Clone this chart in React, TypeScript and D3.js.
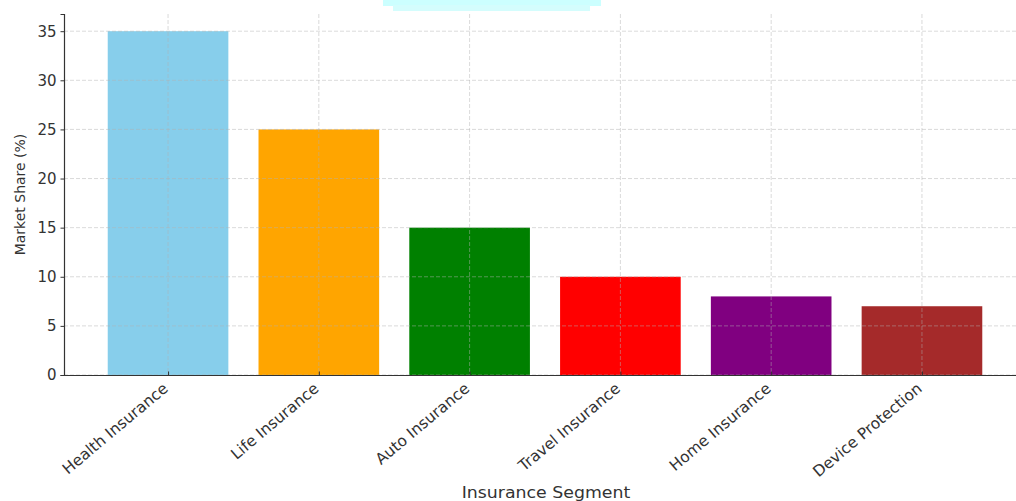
import React, { useEffect, useRef } from 'react'
import * as d3 from 'd3'

const segments = ['Health Insurance', 'Life Insurance', 'Auto Insurance', 'Travel Insurance', 'Home Insurance', 'Device Protection']
const shares = [35, 25, 15, 10, 8, 7]
const colors = ['#87ceeb', '#ffa500', '#008000', '#ff0000', '#800080', '#a52a2a']
const yTicks = [0, 5, 10, 15, 20, 25, 30, 35]

const width = 1016
const height = 501
const margin = { top: 14, left: 64, bottom: 126 }

export default function App() {
  const ref = useRef<SVGSVGElement>(null)

  useEffect(() => {
    const svg = d3.select(ref.current)
    svg.selectAll('*').remove()
    const font = 'DejaVu Sans, sans-serif'
    const n = segments.length

    const x = d3.scaleLinear()
      .domain([-0.4 - 0.05 * (n - 0.2), n - 1 + 0.4 + 0.05 * (n - 0.2)])
      .range([margin.left, 1026])
    const y = d3.scaleLinear().domain([0, 36.75]).range([height - margin.bottom, margin.top])
    const barW = x(0.8) - x(0)

    // stray cyan blob at the top of the picture
    svg.append('rect').attr('x', 383).attr('y', 0).attr('width', 218).attr('height', 6).attr('fill', '#ccffff')
    svg.append('rect').attr('x', 393).attr('y', 5).attr('width', 197).attr('height', 6).attr('fill', '#d4fdfd')

    svg.append('g').selectAll('rect').data(shares).join('rect')
      .attr('x', (d, i) => x(i) - barW / 2)
      .attr('y', d => y(d))
      .attr('width', barW)
      .attr('height', d => y(0) - y(d))
      .attr('fill', (d, i) => colors[i])

    // grid on top of bars
    const grid = svg.append('g').attr('stroke', '#b0b0b0').attr('stroke-opacity', 0.6)
      .attr('stroke-dasharray', '4,2').attr('stroke-width', 0.8)
    grid.selectAll('line.h').data(yTicks).join('line').attr('class', 'h')
      .attr('x1', margin.left).attr('x2', width).attr('y1', d => y(d)).attr('y2', d => y(d))
    grid.selectAll('line.v').data(segments).join('line').attr('class', 'v')
      .attr('x1', (d, i) => x(i)).attr('x2', (d, i) => x(i)).attr('y1', y(36.75)).attr('y2', y(0))

    const yAxis = svg.append('g').attr('transform', `translate(${margin.left},0)`)
      .call(d3.axisLeft(y).tickValues(yTicks).tickSize(3.5).tickPadding(4))
    yAxis.select('.domain').attr('stroke', '#333').attr('stroke-width', 1.2)
    yAxis.selectAll('.tick line').attr('stroke', '#333')
    yAxis.selectAll('.tick text').attr('font-family', font).attr('font-size', 15).attr('fill', '#333')

    const xAxis = svg.append('g').attr('transform', `translate(0,${y(0)})`)
      .call(d3.axisBottom(x).tickValues(d3.range(n)).tickSize(-3.5).tickSizeOuter(0).tickFormat((d: any) => segments[d]))
    xAxis.select('.domain').attr('stroke', '#333').attr('stroke-width', 1.2)
    xAxis.selectAll('.tick line').attr('stroke', '#333')
    xAxis.selectAll('.tick text')
      .attr('font-family', font).attr('font-size', 15.5).attr('fill', '#333')
      .attr('text-anchor', 'end').attr('dy', '0.35em')
      .attr('transform', 'translate(-3,11) rotate(-40)')
      .attr('y', 0).attr('x', 0)

    svg.append('text').attr('transform', `translate(25,${(y(0) + margin.top) / 2}) rotate(-90)`)
      .attr('text-anchor', 'middle').attr('font-family', font).attr('font-size', 14).attr('fill', '#333')
      .text('Market Share (%)')
    svg.append('text').attr('transform', 'translate(546,498) scale(1.12,1)')
      .attr('text-anchor', 'middle').attr('font-family', font).attr('font-size', 15.5).attr('fill', '#333')
      .text('Insurance Segment')
  }, [])

  return <svg ref={ref} width={width} height={height} style={{ position: 'absolute', left: 0, top: 0, background: '#fff' }} />
}
